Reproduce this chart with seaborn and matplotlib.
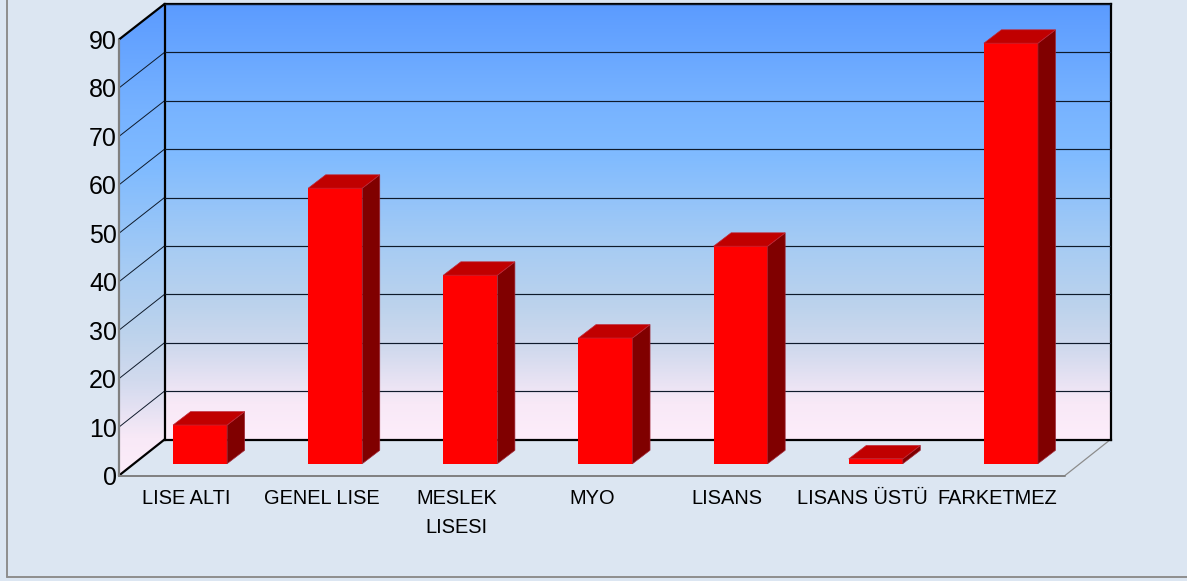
import numpy as np
import pandas as pd
import seaborn as sns
import matplotlib
matplotlib.use("Agg")
import matplotlib.pyplot as plt
from matplotlib.colors import LinearSegmentedColormap
from matplotlib.lines import Line2D
from matplotlib.patches import Polygon
from matplotlib.transforms import IdentityTransform

categories = ["LISE ALTI", "GENEL LISE", "MESLEK\nLISESI", "MYO", "LISANS", "LISANS ÜSTÜ", "FARKETMEZ"]
values = [8, 57, 39, 26, 45, 1, 87]
y_ticks = [0, 10, 20, 30, 40, 50, 60, 70, 80, 90]

W, H = 1187, 581
BG = "#DCE6F2"

sns.set_theme(style="white")
plt.rcParams["font.family"] = ["Liberation Sans", "DejaVu Sans"]

fig = plt.figure(figsize=(W / 100, H / 100), dpi=100, facecolor=BG)


def plane(x0, x1, y_bottom, y_top, z):
    ax = fig.add_axes([x0 / W, 1 - y_bottom / H, (x1 - x0) / W, (y_bottom - y_top) / H], zorder=z)
    ax.set_xlim(-0.5, 6.5)
    ax.set_ylim(0, 90)
    ax.patch.set_alpha(0)
    for s in ax.spines.values():
        s.set_visible(False)
    ax.tick_params(length=0)
    return ax


cmap = LinearSegmentedColormap.from_list(
    "wall",
    [(0.0, "#FDEDFA"), (0.08, "#F8E9F7"), (0.2, "#D2DAEE"), (0.3, "#BDD3EC"),
     (0.45, "#A5CBF4"), (0.65, "#80BBFF"), (0.78, "#76B2FF"), (1.0, "#5B9BFF")],
)

# Back wall plane, with gradient and gridlines
back = plane(164.5, 1110.5, 439.5, 4, 1)
back.imshow(np.linspace(1, 0, 256).reshape(-1, 1), cmap=cmap, vmin=0, vmax=1,
            extent=(-0.5, 6.5, 0, 90), aspect="auto", zorder=0)
back.set_yticks(y_ticks)
back.set_xticks([])
back.set_yticklabels([])
back.grid(axis="y", color="#0E1A2B", lw=0.85, zorder=1)
back.set_axisbelow(False)
for s in back.spines.values():
    s.set_visible(True)
    s.set_color("#000000")
    s.set_linewidth(1.6)

# Front plane carries tick labels
front = plane(119, 1065, 475.5, 39.5, 2)
front.set_xticks(range(len(categories)))
front.set_xticklabels(categories, fontsize=14.4, color="#000000", linespacing=1.65, va="top")
front.set_yticks(y_ticks)
front.set_yticklabels([str(v) for v in y_ticks], fontsize=18, color="#000000")
front.tick_params(axis="y", pad=1.5)
front.tick_params(axis="x", pad=10)

# Bars plane, halfway into the depth
bars = plane(132.5, 1078.5, 463.7, 28.7, 3)
df = pd.DataFrame({"category": categories, "value": values})
sns.barplot(data=df, x="category", y="value", ax=bars, color="#FF0000", saturation=1,
            width=0.4, edgecolor="none", linewidth=0)
bars.set_xlim(-0.5, 6.5)
bars.set_ylim(0, 90)
bars.set_xlabel("")
bars.set_ylabel("")
bars.set_xticks([])
bars.set_yticks([])

fig.canvas.draw()

# Side walls and floor follow from the two planes
ft, bt = front.transData, back.transData
overlay = dict(transform=IdentityTransform(), clip_on=False)

canvas = fig.add_axes([0, 0, 1, 1], zorder=0)
canvas.set_xlim(0, W)
canvas.set_ylim(0, H)
canvas.axis("off")

f_bl, f_br = ft.transform((-0.5, 0)), ft.transform((6.5, 0))
f_tl = ft.transform((-0.5, 90))
b_bl, b_br, b_tl = bt.transform((-0.5, 0)), bt.transform((6.5, 0)), bt.transform((-0.5, 90))

# left wall: gradient running over the wall's full height, clipped to its outline
wall_img = canvas.imshow(np.linspace(1, 0, 256).reshape(-1, 1), cmap=cmap, vmin=0, vmax=1,
                         extent=(f_bl[0], b_bl[0], f_bl[1], b_tl[1]), aspect="auto", zorder=0)
wall_poly = Polygon([f_bl, f_tl, b_tl, b_bl], transform=canvas.transData, fc="none", ec="none")
canvas.add_patch(wall_poly)
wall_img.set_clip_path(wall_poly)
canvas.set_xlim(0, W)
canvas.set_ylim(0, H)

for v in y_ticks[1:-1]:
    a, b = ft.transform((-0.5, v)), bt.transform((-0.5, v))
    canvas.add_line(Line2D([a[0], b[0]], [a[1], b[1]], color="#0E1A2B", lw=0.7))

# wall and floor edges
edges = [
    (f_bl, b_bl, "#000000", 1.6),
    (f_tl, b_tl, "#000000", 1.6),
    (f_br, b_br, "#8C8C8C", 0.9),
    (f_bl, f_br, "#808080", 1.4),
    (f_bl, f_tl, "#808080", 1.6),
]
for a, b, c, lw in edges:
    canvas.add_line(Line2D([a[0], b[0]], [a[1], b[1]], color=c, lw=lw, solid_capstyle="round"))

# outer frame
canvas.add_line(Line2D([7, 7], [H - 577, H], color="#8E8E8E", lw=1.4))
canvas.add_line(Line2D([7, W], [H - 577, H - 577], color="#8E8E8E", lw=1.4))

# 3-D faces of each bar
dx, dy = 17.5, 13.4
for p in bars.patches:
    x, w, h = p.get_x(), p.get_width(), p.get_height()
    (x0, y0), (x1, y1) = bars.transData.transform([(x, 0), (x + w, h)])
    side = [(x1, y0), (x1 + dx, y0 + dy), (x1 + dx, y1 + dy), (x1, y1)]
    top = [(x0, y1), (x1, y1), (x1 + dx, y1 + dy), (x0 + dx, y1 + dy)]
    bars.add_patch(Polygon(side, fc="#800000", ec="#A02838", lw=0.5, **overlay))
    bars.add_patch(Polygon(top, fc="#C00000", ec="#C02838", lw=0.5, **overlay))

fig.savefig("out.png", dpi=100, facecolor=BG)
